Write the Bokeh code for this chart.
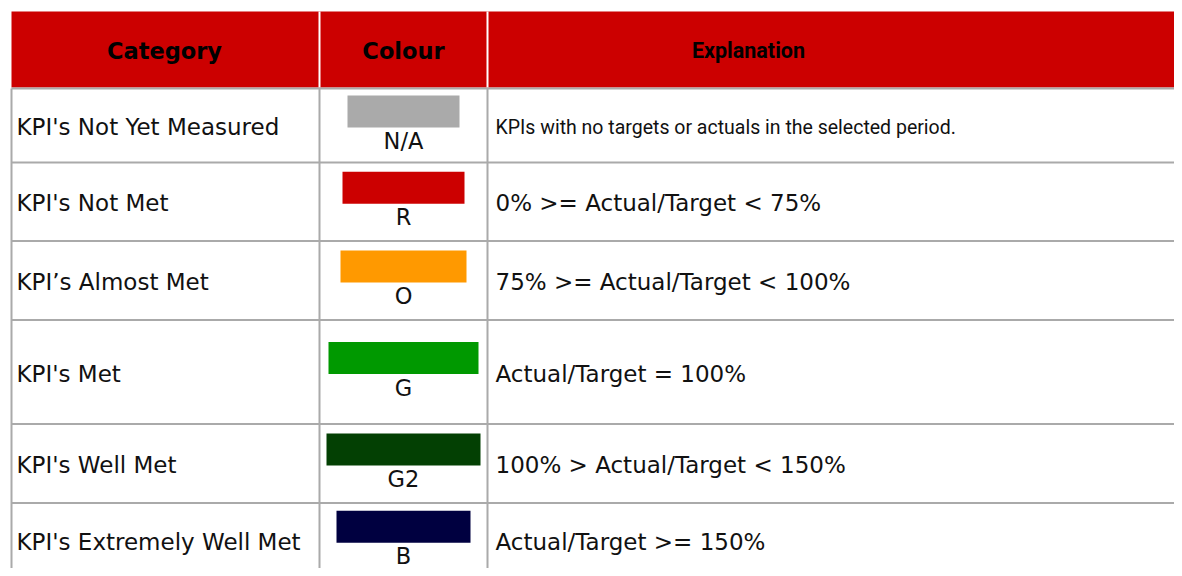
from bokeh.plotting import figure
from bokeh.models import ColumnDataSource, Range1d
from bokeh.core.properties import value
from bokeh.embed import file_html
from bokeh.resources import INLINE

# ---- table content ----
headers = ["Category", "Colour", "Explanation"]
categories = ["KPI's Not Yet Measured", "KPI's Not Met", "KPI\u2019s Almost Met",
              "KPI's Met", "KPI's Well Met", "KPI's Extremely Well Met"]
codes = ["N/A", "R", "O", "G", "G2", "B"]
colours = ["#aaaaaa", "#cc0000", "#ff9900", "#009900", "#034003", "#000040"]
explanations = ["KPIs with no targets or actuals in the selected period.",
                "0% >= Actual/Target < 75%",
                "75% >= Actual/Target < 100%",
                "Actual/Target = 100%",
                "100% > Actual/Target < 150%",
                "Actual/Target >= 150%"]

# ---- layout (screen pixels) ----
row_edges = [88, 162, 240.5, 319.5, 423.5, 502.5, 578]
swatch_widths = [112, 122, 126, 150, 154, 134]
col_edges = [11, 319, 487, 1200]
header_top, header_bottom = 11, 87
header_centers = [164, 403, 748]
swatch_h = 32
main_font = "DejaVu Sans"
narrow_font = "Roboto"

p = figure(width=1174, height=568, x_range=Range1d(0, 1174), y_range=Range1d(568, 0),
           output_backend="svg", toolbar_location=None, min_border=0)
p.axis.visible = False
p.grid.visible = False
p.outline_line_color = None
p.background_fill_color = "white"
p.border_fill_color = "white"

# header band
p.quad(left=[col_edges[0]], right=[col_edges[-1]], top=[header_top], bottom=[header_bottom],
       fill_color="#cc0000", line_color=None)
p.segment(x0=col_edges[1:3], x1=col_edges[1:3], y0=[header_top] * 2, y1=[header_bottom] * 2,
          line_color="white", line_width=2)
p.text(x=header_centers[:2], y=[50, 50], text=headers[:2], text_font=value(main_font),
       text_font_style="bold", text_font_size="22.5px", text_align="center",
       text_baseline="middle", text_color="black")
p.text(x=header_centers[2:], y=[50], text=headers[2:], text_font=value(narrow_font),
       text_font_style="bold", text_font_size="21.5px", text_align="center",
       text_baseline="middle", text_color="black")

# grid lines
n = len(categories)
p.segment(x0=[col_edges[0]] * len(row_edges), x1=[col_edges[-1]] * len(row_edges),
          y0=row_edges, y1=row_edges, line_color="#aaaaaa", line_width=2)
p.segment(x0=col_edges[:3], x1=col_edges[:3], y0=[row_edges[0]] * 3, y1=[row_edges[-1]] * 3,
          line_color="#aaaaaa", line_width=2)

centers = [(row_edges[i] + row_edges[i + 1]) / 2 for i in range(n)]
swatch_x = (col_edges[1] + col_edges[2]) / 2
sw_top = [c - 30 for c in centers]
src = ColumnDataSource(dict(
    left=[swatch_x - w / 2 for w in swatch_widths],
    right=[swatch_x + w / 2 for w in swatch_widths],
    top=sw_top,
    bottom=[t + swatch_h for t in sw_top],
    colour=colours,
    code=codes,
    code_y=[t + swatch_h + 13.5 for t in sw_top],
    code_x=[swatch_x] * n,
    cat=categories,
    text_y=[c + 1.5 for c in centers],
    cat_x=[16] * n,
))
p.quad(left="left", right="right", top="top", bottom="bottom", fill_color="colour",
       line_color=None, source=src)
p.text(x="code_x", y="code_y", text="code", source=src, text_font=value(main_font),
       text_font_size="22.5px", text_align="center", text_baseline="middle", text_color="#111111")
p.text(x="cat_x", y="text_y", text="cat", source=src, text_font=value(main_font),
       text_font_size="23px", text_align="left", text_baseline="middle", text_color="#111111")

# explanation column: first row in a narrower face, others in the main face
p.text(x=[495], y=[centers[0] + 1.5], text=explanations[:1], text_font=value(narrow_font),
       text_font_size="19.5px", text_align="left", text_baseline="middle", text_color="#111111")
p.text(x=[495] * (n - 1), y=[c + 1.5 for c in centers[1:]], text=explanations[1:],
       text_font=value(main_font), text_font_size="23px", text_align="left",
       text_baseline="middle", text_color="#111111")

open("out.html", "w").write(file_html(p, INLINE))
